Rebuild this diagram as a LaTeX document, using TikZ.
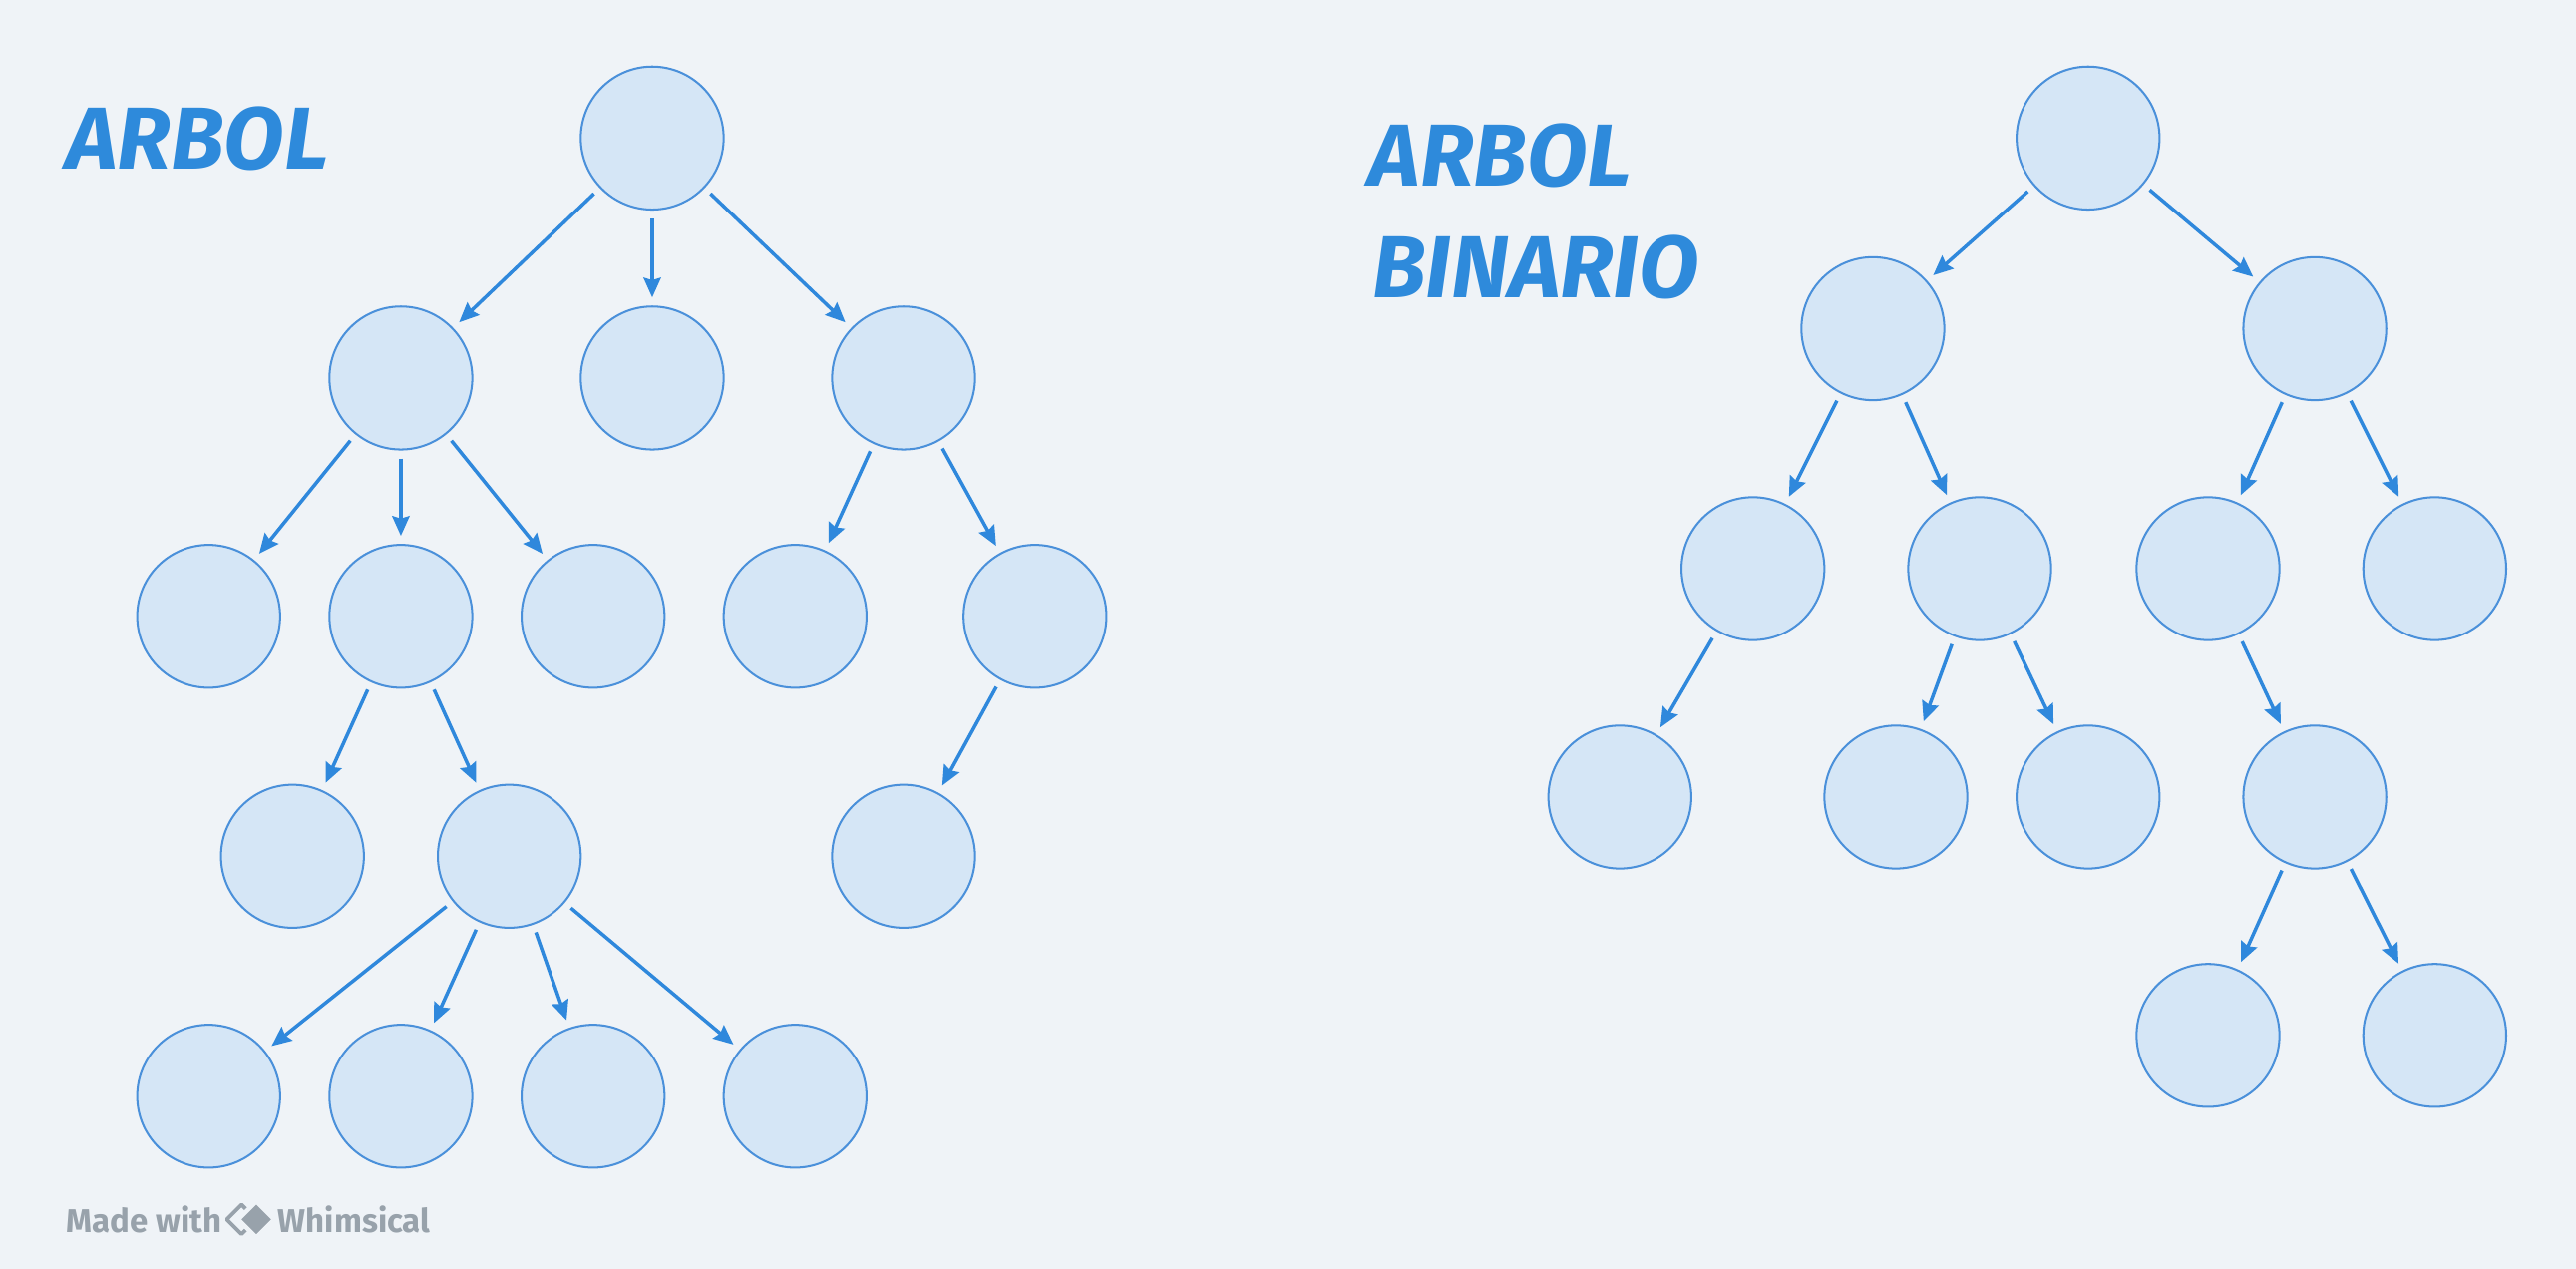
\documentclass[tikz,border=0pt]{standalone}
\usepackage{fontspec}
\setmainfont{Fira Sans}
\usetikzlibrary{arrows.meta}
\definecolor{fundo}{HTML}{EFF3F7}
\definecolor{preench}{HTML}{D5E6F6}
\definecolor{borda}{HTML}{4A90DA}
\definecolor{seta}{HTML}{2F88DC}
\definecolor{titulo}{HTML}{2E8ADB}
\definecolor{rodape}{HTML}{98A2AB}
\tikzset{
  no/.style={circle, draw=borda, fill=preench, line width=0.7pt, minimum size=1.74cm, outer sep=0.11cm},
  aresta/.style={draw=seta, line width=1.2pt, -{Stealth[length=0.24cm, width=0.21cm, inset=0.03cm]}},
  titulotxt/.style={anchor=base west, inner sep=0, text=titulo, font=\fontsize{30.5}{31}\selectfont\bfseries\itshape},
  rodapetxt/.style={anchor=base west, inner sep=0, text=rodape, font=\fontsize{11.4}{12}\selectfont\bfseries}
}
\begin{document}
\begin{tikzpicture}[x=0.02cm, y=-0.02cm]
        \fill[fundo] (0,0) rectangle (1568,772);
        \useasboundingbox (0,0) rectangle (1568,772);
        
        % Titulos
        \node[titulotxt] (t1) at (40,103) {ARBOL};
        \node[titulotxt] (t2) at (833,113) {ARBOL};
        \node[titulotxt] (t3) at (835,181) {BINARIO};
        
        % Arvore
        \node[no] (a0) at (397,84) {};
        \node[no] (a1) at (244,230) {};
        \node[no] (a2) at (397,230) {};
        \node[no] (a3) at (550,230) {};
        \node[no] (b1) at (127,375) {};
        \node[no] (b2) at (244,375) {};
        \node[no] (b3) at (361,375) {};
        \node[no] (b4) at (484,375) {};
        \node[no] (b5) at (630,375) {};
        \node[no] (c1) at (178,521) {};
        \node[no] (c2) at (310,521) {};
        \node[no] (c3) at (550,521) {};
        \node[no] (d1) at (127,667) {};
        \node[no] (d2) at (244,667) {};
        \node[no] (d3) at (361,667) {};
        \node[no] (d4) at (484,667) {};
        
        \draw[aresta] (a0) -- (a1);
        \draw[aresta] (a0) -- (a2);
        \draw[aresta] (a0) -- (a3);
        \draw[aresta] (a1) -- (b1);
        \draw[aresta] (a1) -- (b2);
        \draw[aresta] (a1) -- (b3);
        \draw[aresta] (a3) -- (b4);
        \draw[aresta] (a3) -- (b5);
        \draw[aresta] (b2) -- (c1);
        \draw[aresta] (b2) -- (c2);
        \draw[aresta] (b5) -- (c3);
        \draw[aresta] (c2) -- (d1);
        \draw[aresta] (c2) -- (d2);
        \draw[aresta] (c2) -- (d3);
        \draw[aresta] (c2) -- (d4);
        
        % Arvore binaria
        \node[no] (r0) at (1271,84) {};
        \node[no] (r1) at (1140,200) {};
        \node[no] (r2) at (1409,200) {};
        \node[no] (s1) at (1067,346) {};
        \node[no] (s2) at (1205,346) {};
        \node[no] (s3) at (1344,346) {};
        \node[no] (s4) at (1482,346) {};
        \node[no] (u1) at (986,485) {};
        \node[no] (u2) at (1154,485) {};
        \node[no] (u3) at (1271,485) {};
        \node[no] (u4) at (1409,485) {};
        \node[no] (v1) at (1344,630) {};
        \node[no] (v2) at (1482,630) {};
        
        \draw[aresta] (r0) -- (r1);
        \draw[aresta] (r0) -- (r2);
        \draw[aresta] (r1) -- (s1);
        \draw[aresta] (r1) -- (s2);
        \draw[aresta] (r2) -- (s3);
        \draw[aresta] (r2) -- (s4);
        \draw[aresta] (s1) -- (u1);
        \draw[aresta] (s2) -- (u2);
        \draw[aresta] (s2) -- (u3);
        \draw[aresta] (s3) -- (u4);
        \draw[aresta] (u4) -- (v1);
        \draw[aresta] (u4) -- (v2);
        
        % Rodape
        \node[rodapetxt] (m1) at (40,750) {Made with};
        \node[rodapetxt] (m2) at (169,750) {Whimsical};
        \draw[rodape, line width=1.3pt, line join=round] (147,733) -- (156,742) -- (147,751) -- (138,742) -- cycle;
        \filldraw[fill=rodape, draw=fundo, line width=1.5pt, line join=round] (156,731) -- (167,742) -- (156,753) -- (145,742) -- cycle;
        
    \end{tikzpicture}
\end{document}
